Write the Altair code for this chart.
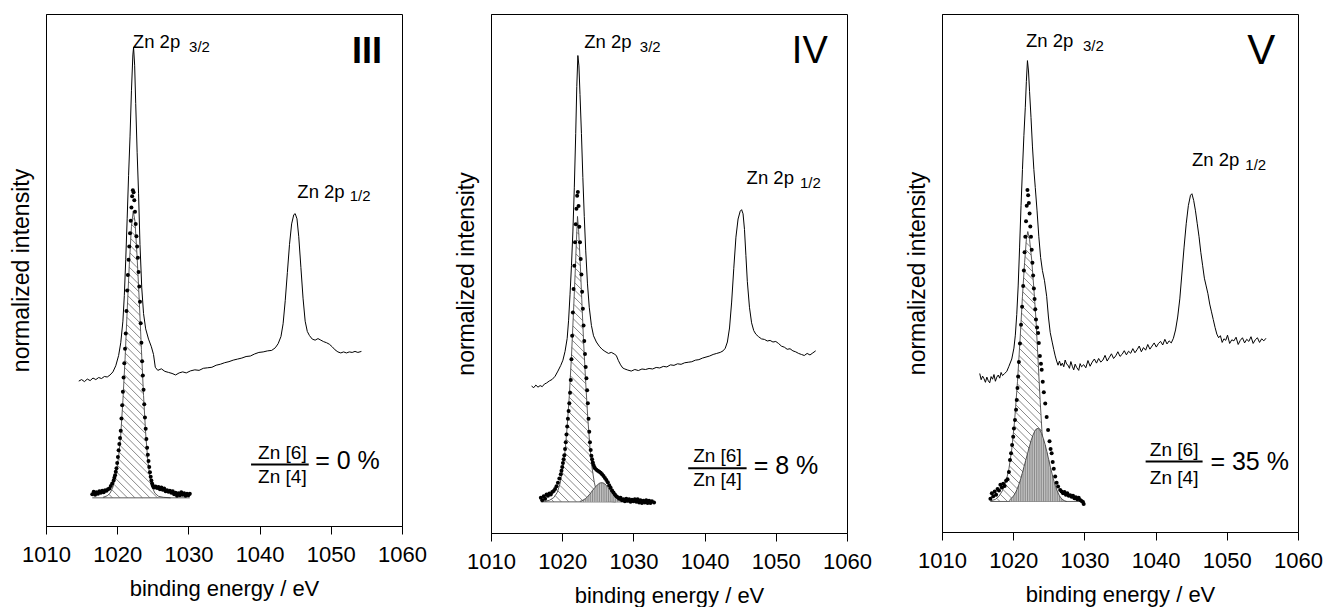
import altair as alt
import pandas as pd
import numpy as np

FONT = "Liberation Sans"
X_TICKS = [1010, 1020, 1030, 1040, 1050, 1060]

# ---------------- Panel III ----------------
III_upper = [(1014.6,28.3),(1015.0,28.6),(1015.4,28.2),(1015.8,28.7),(1016.2,28.4),(1016.6,28.9),(1017.0,28.6),(1017.4,29.0),(1017.8,28.8),(1018.2,29.2),(1018.6,29.1),(1019.0,29.5),(1019.4,30.1),(1019.8,31.3),(1020.2,33.3),(1020.5,35.8),(1020.8,40.0),(1021.0,45.0),(1021.2,52.0),(1021.4,60.0),(1021.6,68.5),(1021.8,76.0),(1022.0,85.0),(1022.2,92.0),(1022.3,93.5),(1022.45,90.0),(1022.6,82.5),(1022.8,73.0),(1023.0,65.0),(1023.2,55.0),(1023.45,46.5),(1023.7,41.5),(1024.0,38.5),(1024.4,36.5),(1024.8,35.0),(1025.1,33.5),(1025.35,31.0),(1025.7,30.4),(1026.2,30.7),(1026.7,30.2),(1027.2,30.0),(1027.7,29.8),(1028.2,29.5),(1028.7,29.9),(1029.2,30.1),(1029.7,29.9),(1030.3,30.3),(1030.9,30.5),(1031.5,30.4),(1032.1,30.8),(1032.7,30.9),(1033.3,31.0),(1033.9,31.4),(1034.5,31.6),(1035.1,31.9),(1035.7,32.1),(1036.3,32.4),(1036.9,32.6),(1037.5,32.8),(1038.1,33.1),(1038.7,33.2),(1039.3,33.6),(1039.9,33.9),(1040.5,34.0),(1041.1,34.2),(1041.7,34.3),(1042.2,34.8),(1042.6,35.6),(1043.0,37.0),(1043.3,39.5),(1043.6,44.0),(1043.9,49.5),(1044.2,55.0),(1044.5,59.0),(1044.8,60.8),(1045.0,61.0),(1045.25,60.0),(1045.5,56.5),(1045.8,50.5),(1046.1,44.5),(1046.4,40.0),(1046.7,38.0),(1047.0,37.2),(1047.4,36.5),(1047.8,36.3),(1048.2,36.6),(1048.6,36.3),(1049.0,36.0),(1049.4,35.8),(1049.8,35.5),(1050.2,35.0),(1050.6,34.4),(1051.0,34.0),(1051.4,33.8),(1051.8,34.0),(1052.2,33.8),(1052.6,34.0),(1053.0,33.9),(1053.4,34.1),(1053.8,33.9),(1054.3,34.1)]
III_dots = [(1016.5,6.2),(1016.7,6.7),(1016.9,6.1),(1017.1,6.6),(1017.3,6.3),(1017.5,6.8),(1017.7,6.5),(1017.9,6.9),(1018.1,6.6),(1018.3,7.0),(1018.5,6.9),(1018.7,7.2),(1018.9,7.3),(1019.1,7.8),(1019.3,8.3),(1019.5,8.9),(1019.6,9.4),(1019.7,9.9),(1019.8,10.6),(1019.9,11.3),(1020.0,12.3),(1020.1,13.5),(1020.2,14.8),(1020.3,16.0),(1020.4,17.2),(1020.5,18.6),(1020.6,21.0),(1020.7,23.6),(1020.8,26.2),(1020.9,29.0),(1021.0,31.8),(1021.1,34.6),(1021.2,37.6),(1021.3,42.0),(1021.4,46.0),(1021.5,49.0),(1021.6,52.0),(1021.7,54.6),(1021.8,57.2),(1021.9,59.6),(1022.0,62.2),(1022.1,64.4),(1022.2,65.6),(1022.3,65.2),(1022.4,63.6),(1022.5,61.4),(1022.6,59.0),(1022.7,56.6),(1022.8,54.6),(1022.9,52.4),(1023.0,49.6),(1023.1,46.8),(1023.2,43.8),(1023.3,39.6),(1023.4,35.8),(1023.5,32.2),(1023.6,29.4),(1023.7,26.6),(1023.8,23.8),(1023.9,21.2),(1024.0,19.0),(1024.1,17.0),(1024.2,15.3),(1024.3,13.9),(1024.4,12.7),(1024.5,11.5),(1024.6,10.5),(1024.7,9.6),(1024.8,8.9),(1024.9,8.3),(1025.0,7.9),(1025.1,7.6),(1025.2,7.5),(1025.4,7.7),(1025.6,7.4),(1025.8,7.6),(1026.0,7.2),(1026.2,7.5),(1026.4,7.1),(1026.6,7.3),(1026.8,6.8),(1027.0,7.0),(1027.2,6.7),(1027.4,6.9),(1027.6,6.5),(1027.8,6.8),(1028.0,6.2),(1028.2,6.5),(1028.4,5.9),(1028.6,6.4),(1028.8,6.0),(1029.0,6.6),(1029.2,6.1),(1029.4,6.4),(1029.6,5.9),(1029.8,6.3),(1030.0,6.0),(1030.2,6.3)]
III_base = 5.5
III_fit4 = [(1018.0,5.6),(1018.6,5.9),(1019.0,6.4),(1019.4,7.6),(1019.8,9.8),(1020.2,13.6),(1020.5,17.8),(1020.8,24.5),(1021.1,32.5),(1021.4,42.0),(1021.7,51.0),(1022.0,58.5),(1022.25,61.5),(1022.5,59.5),(1022.8,52.5),(1023.1,44.0),(1023.4,34.5),(1023.7,25.5),(1024.0,18.0),(1024.3,12.8),(1024.6,9.5),(1024.9,7.6),(1025.3,6.4),(1025.8,5.8),(1026.5,5.6),(1027.5,5.5)]
III_fit6 = []
III_text = {"roman": "III", "ratio": "= 0 %"}

# ---------------- Panel IV ----------------
IV_upper = [(1015.7,28.3),(1016.0,28.0),(1016.3,28.5),(1016.6,28.1),(1016.9,28.4),(1017.2,28.2),(1017.5,28.7),(1017.8,28.9),(1018.2,29.3),(1018.6,29.6),(1019.0,30.2),(1019.4,31.2),(1019.8,32.3),(1020.1,33.3),(1020.4,35.0),(1020.7,37.5),(1020.9,41.0),(1021.1,46.0),(1021.3,51.5),(1021.5,58.0),(1021.7,66.5),(1021.9,77.0),(1022.05,86.0),(1022.2,92.0),(1022.35,90.0),(1022.5,84.5),(1022.7,77.0),(1022.9,68.5),(1023.1,61.0),(1023.3,54.5),(1023.55,48.0),(1023.8,43.5),(1024.1,40.0),(1024.4,38.0),(1024.8,36.8),(1025.2,36.0),(1025.6,35.4),(1026.0,35.0),(1026.5,34.6),(1026.9,34.8),(1027.3,34.5),(1027.6,34.2),(1027.9,33.2),(1028.2,32.4),(1028.5,31.8),(1028.8,31.6),(1029.2,31.4),(1029.7,31.2),(1030.2,31.5),(1030.7,31.3),(1031.2,31.6),(1031.7,31.5),(1032.2,31.7),(1032.7,31.6),(1033.2,31.9),(1033.7,31.8),(1034.2,32.1),(1034.7,32.0),(1035.2,32.4),(1035.7,32.3),(1036.2,32.6),(1036.7,32.5),(1037.2,32.8),(1037.7,32.9),(1038.2,33.0),(1038.7,33.3),(1039.2,33.4),(1039.7,33.7),(1040.2,33.9),(1040.7,34.1),(1041.2,34.4),(1041.7,34.6),(1042.2,34.8),(1042.6,35.1),(1042.9,35.6),(1043.2,36.8),(1043.5,39.5),(1043.8,44.5),(1044.1,51.0),(1044.4,57.0),(1044.7,60.5),(1045.0,62.0),(1045.2,62.3),(1045.4,61.5),(1045.6,58.5),(1045.8,53.5),(1046.0,48.5),(1046.3,43.5),(1046.6,40.5),(1046.9,39.0),(1047.2,38.3),(1047.6,37.8),(1048.0,37.4),(1048.4,37.3),(1048.8,37.0),(1049.2,37.1),(1049.6,36.8),(1050.0,36.9),(1050.4,36.5),(1050.8,36.0),(1051.2,35.8),(1051.6,35.4),(1052.0,35.5),(1052.4,35.1),(1052.8,34.9),(1053.2,34.6),(1053.6,34.4),(1054.0,34.2),(1054.4,34.6),(1054.8,34.3),(1055.2,34.7),(1055.6,35.1)]
IV_dots = [(1017.0,6.8),(1017.2,6.3),(1017.4,7.1),(1017.6,6.6),(1017.8,7.4),(1018.0,7.2),(1018.2,7.6),(1018.4,7.4),(1018.6,7.9),(1018.8,8.1),(1019.0,8.5),(1019.2,9.0),(1019.4,9.7),(1019.6,10.5),(1019.8,11.3),(1019.9,12.0),(1020.0,12.7),(1020.1,13.5),(1020.2,14.2),(1020.3,15.0),(1020.4,16.2),(1020.5,17.5),(1020.6,19.0),(1020.7,20.5),(1020.8,22.0),(1020.9,23.5),(1021.0,25.0),(1021.1,27.0),(1021.2,29.5),(1021.3,33.5),(1021.4,38.0),(1021.5,42.5),(1021.6,47.0),(1021.7,51.5),(1021.8,56.0),(1021.9,59.5),(1022.0,62.5),(1022.1,65.0),(1022.2,65.7),(1022.3,63.0),(1022.4,59.0),(1022.5,56.0),(1022.6,52.8),(1022.7,49.8),(1022.8,46.5),(1022.9,43.2),(1023.0,40.0),(1023.1,37.0),(1023.2,34.5),(1023.3,32.0),(1023.4,29.8),(1023.5,27.5),(1023.6,25.0),(1023.7,22.0),(1023.8,19.5),(1023.9,17.5),(1024.0,16.0),(1024.1,14.9),(1024.2,14.2),(1024.3,13.6),(1024.4,13.1),(1024.5,12.7),(1024.6,12.5),(1024.8,12.2),(1025.0,12.0),(1025.2,11.8),(1025.4,11.6),(1025.6,11.3),(1025.8,11.0),(1026.0,10.6),(1026.2,10.2),(1026.4,9.8),(1026.6,9.2),(1026.8,8.7),(1027.0,8.2),(1027.2,7.8),(1027.4,7.4),(1027.6,7.1),(1027.8,6.9),(1028.0,6.6),(1028.2,6.8),(1028.4,6.3),(1028.6,6.5),(1028.8,6.1),(1029.0,6.6),(1029.2,6.2),(1029.4,6.5),(1029.6,6.0),(1029.8,6.4),(1030.0,6.1),(1030.2,6.5),(1030.4,6.0),(1030.6,6.5),(1030.8,5.9),(1031.0,6.3),(1031.2,5.8),(1031.4,6.2),(1031.6,5.9),(1031.8,6.3),(1032.0,5.8),(1032.2,6.2),(1032.4,5.8),(1032.6,6.1),(1032.9,5.9)]
IV_base = 6.0
IV_fit4 = [(1017.5,6.1),(1018.2,6.3),(1018.8,6.8),(1019.3,7.8),(1019.7,9.5),(1020.1,12.5),(1020.4,15.8),(1020.7,20.5),(1021.0,26.5),(1021.3,34.0),(1021.6,43.0),(1021.85,51.0),(1022.0,56.5),(1022.15,61.0),(1022.3,58.5),(1022.5,53.0),(1022.75,45.0),(1023.0,37.0),(1023.3,29.0),(1023.6,22.0),(1023.9,16.5),(1024.2,12.5),(1024.5,9.8),(1024.8,8.0),(1025.2,6.9),(1025.7,6.3),(1026.5,6.1),(1027.5,6.0)]
IV_fit6 = [(1022.5,6.1),(1022.75,6.2),(1023.0,6.4),(1023.25,6.6),(1023.5,6.9),(1023.75,7.3),(1024.0,7.7),(1024.25,8.2),(1024.5,8.6),(1024.75,9.0),(1025.0,9.35),(1025.25,9.6),(1025.5,9.7),(1025.75,9.65),(1026.0,9.45),(1026.25,9.1),(1026.5,8.7),(1026.75,8.2),(1027.0,7.7),(1027.25,7.3),(1027.5,6.9),(1027.75,6.6),(1028.0,6.4),(1028.25,6.2),(1028.5,6.1)]
IV_text = {"roman": "IV", "ratio": "= 8 %"}

# ---------------- Panel V ----------------
V_upper = [(1015.3,30.6),(1015.5,29.4),(1015.7,30.1),(1015.9,29.6),(1016.1,28.9),(1016.3,29.9),(1016.5,29.2),(1016.7,28.8),(1016.9,30.0),(1017.1,29.5),(1017.3,30.4),(1017.5,29.1),(1017.7,29.9),(1017.9,30.3),(1018.1,29.7),(1018.3,30.8),(1018.5,30.2),(1018.8,30.6),(1019.1,31.0),(1019.4,32.0),(1019.8,33.4),(1020.1,35.5),(1020.3,38.0),(1020.5,42.0),(1020.7,47.5),(1020.9,55.0),(1021.1,63.0),(1021.3,70.0),(1021.5,76.5),(1021.7,82.0),(1021.85,87.0),(1022.0,91.0),(1022.15,89.0),(1022.3,85.0),(1022.5,80.0),(1022.7,74.5),(1022.9,70.0),(1023.1,66.5),(1023.35,62.0),(1023.6,57.0),(1023.85,53.0),(1024.1,50.5),(1024.4,48.5),(1024.7,45.5),(1024.95,41.5),(1025.2,38.5),(1025.5,36.5),(1025.7,35.2),(1025.9,34.0),(1026.1,33.0),(1026.3,32.2),(1026.5,33.0),(1026.7,32.1),(1026.9,32.6),(1027.1,31.9),(1027.3,33.2),(1027.5,32.4),(1027.7,32.2),(1027.9,31.6),(1028.1,32.9),(1028.3,32.0),(1028.5,31.3),(1028.7,32.4),(1028.9,31.8),(1029.2,31.2),(1029.4,32.5),(1029.6,31.9),(1029.9,32.3),(1030.2,31.7),(1030.5,33.1),(1030.8,32.0),(1031.1,32.8),(1031.4,33.4),(1031.7,32.6),(1032.0,33.5),(1032.3,32.8),(1032.6,33.2),(1032.9,34.1),(1033.2,33.0),(1033.5,33.7),(1033.8,34.4),(1034.1,33.5),(1034.4,34.0),(1034.7,34.8),(1035.0,33.9),(1035.3,34.3),(1035.6,35.0),(1035.9,34.2),(1036.2,34.9),(1036.5,34.5),(1036.8,35.4),(1037.1,34.6),(1037.4,35.2),(1037.7,35.9),(1038.0,34.8),(1038.3,35.6),(1038.6,35.1),(1038.9,36.2),(1039.2,35.3),(1039.5,35.9),(1039.8,36.5),(1040.1,35.7),(1040.4,36.4),(1040.7,36.8),(1041.0,36.1),(1041.3,37.2),(1041.6,36.3),(1041.9,36.9),(1042.2,36.5),(1042.5,37.4),(1042.8,39.0),(1043.1,41.5),(1043.4,45.0),(1043.7,50.0),(1044.0,55.0),(1044.3,59.5),(1044.6,63.0),(1044.9,65.0),(1045.1,65.3),(1045.35,64.0),(1045.6,62.0),(1045.85,59.5),(1046.1,57.0),(1046.35,54.0),(1046.6,51.5),(1046.85,49.0),(1047.1,47.5),(1047.35,46.0),(1047.6,44.0),(1047.85,42.5),(1048.1,41.0),(1048.35,39.5),(1048.6,38.2),(1048.85,37.5),(1049.1,37.9),(1049.35,36.6),(1049.6,37.3),(1049.85,37.0),(1050.1,38.0),(1050.4,36.4),(1050.7,37.1),(1051.0,36.9),(1051.3,37.6),(1051.6,36.2),(1051.9,37.0),(1052.2,37.5),(1052.5,36.5),(1052.8,37.2),(1053.1,36.8),(1053.4,37.7),(1053.7,36.4),(1054.0,37.1),(1054.3,37.5),(1054.6,36.6),(1054.9,37.3),(1055.2,36.9),(1055.5,37.4)]
V_dots = [(1016.8,6.4),(1017.0,7.5),(1017.2,6.9),(1017.4,7.8),(1017.6,7.2),(1017.8,8.3),(1018.0,8.0),(1018.2,9.1),(1018.4,8.6),(1018.6,9.3),(1018.8,8.9),(1019.0,9.9),(1019.2,10.2),(1019.4,11.6),(1019.55,13.9),(1019.7,15.2),(1019.85,16.8),(1020.0,18.4),(1020.1,20.0),(1020.25,21.6),(1020.4,23.6),(1020.5,25.5),(1020.6,27.8),(1020.7,30.0),(1020.8,32.8),(1020.95,36.4),(1021.1,40.0),(1021.25,43.5),(1021.4,47.5),(1021.5,50.5),(1021.6,54.0),(1021.7,57.0),(1021.8,60.0),(1021.9,63.0),(1022.0,66.0),(1022.1,65.0),(1022.2,63.5),(1022.3,61.5),(1022.4,59.0),(1022.5,57.0),(1022.6,54.5),(1022.7,52.0),(1022.8,49.5),(1022.9,47.0),(1023.0,45.0),(1023.1,43.0),(1023.2,41.0),(1023.35,39.5),(1023.5,38.4),(1023.6,36.5),(1023.75,34.0),(1023.9,32.5),(1024.0,31.3),(1024.15,29.0),(1024.3,27.0),(1024.5,24.8),(1024.7,22.2),(1024.9,19.7),(1025.1,17.5),(1025.25,16.0),(1025.4,15.2),(1025.55,13.5),(1025.7,12.2),(1025.9,10.7),(1026.1,9.5),(1026.3,8.8),(1026.6,8.1),(1026.8,7.8),(1027.0,7.5),(1027.2,7.7),(1027.4,7.2),(1027.6,7.5),(1027.8,7.0),(1028.0,7.1),(1028.2,6.8),(1028.4,7.0),(1028.6,6.5),(1028.8,6.7),(1029.0,6.3),(1029.2,6.6),(1029.4,6.2),(1029.6,6.0),(1029.8,5.8),(1029.9,5.4)]
V_base = 5.9
V_fit4 = [(1016.8,6.0),(1017.5,6.3),(1018.0,6.9),(1018.5,8.0),(1019.0,9.8),(1019.4,12.2),(1019.8,16.0),(1020.2,21.5),(1020.6,29.0),(1021.0,38.0),(1021.3,45.5),(1021.6,52.0),(1021.85,56.5),(1022.05,58.0),(1022.3,56.5),(1022.6,52.5),(1022.9,47.0),(1023.2,41.0),(1023.5,33.0),(1023.8,25.0),(1024.1,18.0),(1024.4,12.8),(1024.7,9.5),(1025.0,7.6),(1025.4,6.6),(1026.0,6.1),(1027.0,5.9)]
V_fit6 = [(1019.5,6.2),(1019.75,6.5),(1020.0,6.9),(1020.25,7.4),(1020.5,8.1),(1020.75,9.0),(1021.0,10.0),(1021.25,11.2),(1021.5,12.5),(1021.75,13.8),(1022.0,15.1),(1022.25,16.4),(1022.5,17.6),(1022.75,18.6),(1023.0,19.4),(1023.25,19.9),(1023.5,20.0),(1023.75,19.7),(1024.0,19.0),(1024.25,18.0),(1024.5,16.8),(1024.75,15.4),(1025.0,13.9),(1025.25,12.4),(1025.5,11.0),(1025.75,9.7),(1026.0,8.6),(1026.25,7.7),(1026.5,7.0),(1026.75,6.5),(1027.0,6.2),(1027.25,6.0),(1027.5,5.9)]
V_text = {"roman": "V", "ratio": "= 35 %"}

# annotation anchors (data coordinates: eV, intensity)
III_pos = {"p32": (1022.2, 93.4), "p32s": (1030.1, 92.6), "roman": (1057.2, 90.4),
           "p12": (1045.3, 64.1), "p12s": (1052.65, 63.4), "num": (1043.2, 13.1),
           "bar": (1038.8, 1046.9, 12.0), "den": (1043.2, 8.4), "eq": (1047.8, 12.7)}
IV_pos = {"p32": (1023.1, 93.4), "p32s": (1030.9, 92.6), "roman": (1057.3, 90.6),
          "p12": (1045.9, 67.2), "p12s": (1053.4, 66.4), "num": (1041.8, 13.6),
          "bar": (1037.7, 1045.9, 12.5), "den": (1041.8, 9.1), "eq": (1046.9, 13.0)}
V_pos = {"p32": (1021.8, 93.6), "p32s": (1029.8, 92.8), "roman": (1056.8, 90.3),
         "p12": (1045.1, 70.6), "p12s": (1052.6, 69.8), "num": (1042.6, 14.7),
         "bar": (1038.6, 1046.6, 13.6), "den": (1042.6, 9.3), "eq": (1047.7, 13.6)}

XS = alt.Scale(domain=[1010, 1060], nice=False, zero=False)
YS = alt.Scale(domain=[0, 100], nice=False, zero=False)
PW = 356

X_AXIS = alt.Axis(values=X_TICKS, format="d", tickSize=8, tickColor="black", domainColor="black",
                  labelFont=FONT, labelFontSize=22, labelColor="black", labelPadding=10, grid=False,
                  title="binding energy / eV", titleFont=FONT, titleFontSize=22,
                  titleFontWeight="normal", titleColor="black", titlePadding=13, labelFlush=False)
Y_AXIS = alt.Axis(labels=False, ticks=False, grid=False, domainColor="black",
                  title="normalized intensity", titleFont=FONT, titleFontSize=23,
                  titleFontWeight="normal", titleColor="black", titlePadding=13)


def X(f="x"):
    return alt.X(f + ":Q", scale=XS, axis=X_AXIS)


def Y(f="y"):
    return alt.Y(f + ":Q", scale=YS, axis=Y_AXIS)


def df(pairs, base=None):
    d = pd.DataFrame(pairs, columns=["x", "y"])
    if base is not None:
        d["b"] = base
    return d


def diag_hatch(pairs, base, H, step=7.5):
    fx = np.array([p[0] for p in pairs], float)
    fy = np.array([p[1] for p in pairs], float)
    kx, ky = PW / 50.0, H / 100.0
    px, py, bpy = (fx - 1010) * kx, fy * ky, base * ky
    g = np.arange(px[0], px[-1], 0.2)
    top = np.interp(g, px, py)
    rows = []
    for c in np.arange(px[0] + bpy + 2, px[-1] + py.max(), step):
        yl = c - g
        ins = (yl >= bpy) & (yl <= top)
        idx = np.where(ins)[0]
        if len(idx) < 3:
            continue
        br = np.where(np.diff(idx) > 1)[0]
        starts = np.concatenate([[idx[0]], idx[br + 1]])
        ends = np.concatenate([idx[br], [idx[-1]]])
        for s, e in zip(starts, ends):
            if e - s < 2:
                continue
            rows.append({"x": g[s] / kx + 1010, "y": yl[s] / ky,
                         "x2": g[e] / kx + 1010, "y2": yl[e] / ky})
    return pd.DataFrame(rows)


def text_layer(x, y, s, size, align="left", baseline="alphabetic", weight="normal"):
    d = pd.DataFrame({"x": [x], "y": [y], "t": [s]})
    return alt.Chart(d).mark_text(font=FONT, fontSize=size, align=align, baseline=baseline,
                                  fontWeight=weight, color="black").encode(x=X(), y=Y(), text="t:N")


def panel(upper, dots, base, fit4, fit6, texts, pos, H, roman_weight="normal", roman_size=38):
    layers = []
    layers.append(alt.Chart(df(upper)).mark_line(color="black", strokeWidth=1).encode(x=X(), y=Y()))
    dmin = min(p[0] for p in dots)
    dmax = max(p[0] for p in dots)
    layers.append(alt.Chart(pd.DataFrame({"x": [dmin], "x2": [dmax], "y": [base]})).mark_rule(
        color="#333333", strokeWidth=0.8).encode(x=X(), x2="x2:Q", y=Y()))
    hd = diag_hatch(fit4, base, H)
    layers.append(alt.Chart(hd).mark_rule(color="#555555", strokeWidth=0.7).encode(
        x=X(), y=Y(), x2="x2:Q", y2="y2:Q"))
    layers.append(alt.Chart(df(fit4)).mark_line(color="#333333", strokeWidth=0.8).encode(x=X(), y=Y()))
    if fit6:
        d6 = df(fit6, base)
        layers.append(alt.Chart(d6).mark_area(color="#d2d2d2", opacity=1).encode(x=X(), y=Y(), y2="b:Q"))
        layers.append(alt.Chart(d6).mark_rule(color="#555555", strokeWidth=0.6).encode(
            x=X(), y=Y("b"), y2="y:Q"))
        layers.append(alt.Chart(d6).mark_line(color="#333333", strokeWidth=0.8).encode(x=X(), y=Y()))
    layers.append(alt.Chart(df(dots)).mark_circle(color="black", size=16, opacity=1).encode(x=X(), y=Y()))
    # annotations
    layers.append(text_layer(*pos["p32"], "Zn 2p", 18.5))
    layers.append(text_layer(*pos["p32s"], "3/2", 15))
    layers.append(text_layer(*pos["p12"], "Zn 2p", 18.5))
    layers.append(text_layer(*pos["p12s"], "1/2", 15))
    layers.append(text_layer(*pos["roman"], texts["roman"], roman_size, align="right", weight=roman_weight))
    layers.append(text_layer(*pos["num"], "Zn [6]", 19, align="center"))
    layers.append(text_layer(*pos["den"], "Zn [4]", 19, align="center"))
    layers.append(text_layer(*pos["eq"], texts["ratio"], 25, baseline="middle"))
    bx1, bx2, by = pos["bar"]
    layers.append(alt.Chart(pd.DataFrame({"x": [bx1], "x2": [bx2], "y": [by]})).mark_rule(
        color="black", strokeWidth=2).encode(x=X(), x2="x2:Q", y=Y()))
    return alt.layer(*layers).properties(width=PW, height=H)


p1 = panel(III_upper, III_dots, III_base, III_fit4, III_fit6, III_text, III_pos, 512,
           roman_weight="bold", roman_size=36)
p2 = panel(IV_upper, IV_dots, IV_base, IV_fit4, IV_fit6, IV_text, IV_pos, 519, roman_size=38)
p3 = panel(V_upper, V_dots, V_base, V_fit4, V_fit6, V_text, V_pos, 518, roman_size=42)

chart = alt.hconcat(alt.hconcat(p1, p2, spacing=27), p3, spacing=33).configure_view(
    stroke="black", strokeWidth=1).properties(
    padding={"left": 9, "top": 13, "right": 0, "bottom": 0}, background="white")

chart.save("out.html", embed_options={"renderer": "svg", "actions": False})
